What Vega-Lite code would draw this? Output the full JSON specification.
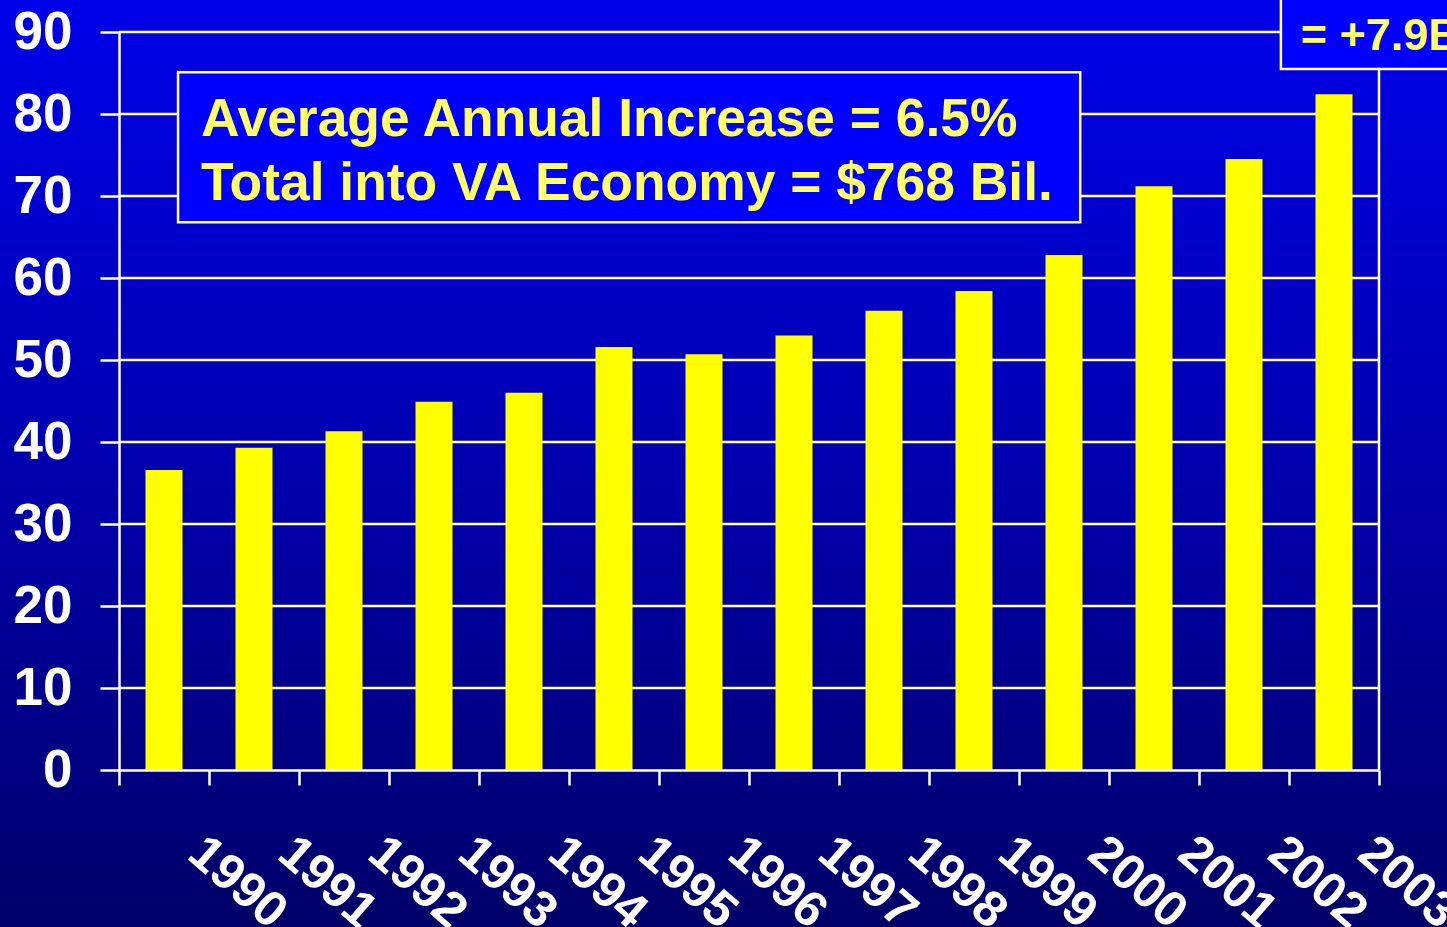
{
  "$schema": "https://vega.github.io/schema/vega-lite/v6.json",
  "width": 1260,
  "height": 738,
  "autosize": {"type": "none"},
  "padding": {"left": 119, "top": 32, "right": 68, "bottom": 157},
  "background": "#0000a8",
  "config": {
    "view": {"stroke": null},
    "font": "Liberation Sans",
    "axis": {"zindex": 1}
  },
  "datasets": {
    "bars": [
      {"year": "1990", "value": 36.6},
      {"year": "1991", "value": 39.3},
      {"year": "1992", "value": 41.3},
      {"year": "1993", "value": 44.9},
      {"year": "1994", "value": 46.0},
      {"year": "1995", "value": 51.6},
      {"year": "1996", "value": 50.7},
      {"year": "1997", "value": 53.0},
      {"year": "1998", "value": 56.0},
      {"year": "1999", "value": 58.4},
      {"year": "2000", "value": 62.8},
      {"year": "2001", "value": 71.2},
      {"year": "2002", "value": 74.5},
      {"year": "2003", "value": 82.4}
    ],
    "grid": [
      {"v": 10}, {"v": 20}, {"v": 30}, {"v": 40}, {"v": 50},
      {"v": 60}, {"v": 70}, {"v": 80}, {"v": 90}
    ]
  },
  "resolve": {"scale": {"x": "independent"}, "axis": {"x": "independent", "y": "independent"}},
  "layer": [
    {
      "data": {"values": [{}]},
      "mark": {
        "type": "rect",
        "fill": {
          "gradient": "linear", "x1": 0, "y1": 0, "x2": 0, "y2": 1,
          "stops": [
            {"offset": 0, "color": "#0000f0"},
            {"offset": 0.5, "color": "#0000b0"},
            {"offset": 1, "color": "#000062"}
          ]
        }
      },
      "encoding": {
        "x": {"datum": -2, "type": "quantitative", "scale": {"domain": [0, 14], "nice": false, "zero": false}, "axis": null},
        "x2": {"datum": 16},
        "y": {"datum": -25, "type": "quantitative", "scale": {"domain": [0, 90], "nice": false}, "axis": null},
        "y2": {"datum": 100}
      }
    },
    {
      "data": {"name": "grid"},
      "mark": {"type": "rule", "color": "white", "strokeWidth": 2.5},
      "encoding": {
        "y": {"field": "v", "type": "quantitative", "scale": {"domain": [0, 90], "nice": false}, "axis": null}
      }
    },
    {
      "data": {"values": [{}]},
      "mark": {"type": "rule", "color": "white", "strokeWidth": 2.5},
      "encoding": {
        "x": {"datum": 14, "type": "quantitative", "scale": {"domain": [0, 14], "nice": false, "zero": false}, "axis": null}
      }
    },
    {
      "data": {"name": "bars"},
      "mark": {"type": "bar", "color": "#ffff00", "width": {"band": 0.411}},
      "encoding": {
        "x": {
          "field": "year", "type": "ordinal",
          "scale": {"paddingInner": 0, "paddingOuter": 0},
          "axis": {
            "title": null, "orient": "bottom", "labelAngle": 41, "labelAlign": "left", "labelBaseline": "alphabetic",
            "labelFont": "Liberation Sans", "labelFontWeight": "bold", "labelFontSize": 50, "labelColor": "white",
            "labelOffset": 21, "labelPadding": 72, "labelOverlap": false, "labelFlush": false, "labelBound": false,
            "tickBand": "extent", "tickSize": 15, "tickColor": "white", "tickWidth": 2.5,
            "domainColor": "white", "domainWidth": 2.5, "grid": false, "zindex": 1
          }
        },
        "y": {
          "field": "value", "type": "quantitative",
          "scale": {"domain": [0, 90], "nice": false},
          "axis": {
            "title": null, "orient": "left", "values": [0, 10, 20, 30, 40, 50, 60, 70, 80, 90],
            "labelFont": "Liberation Sans", "labelFontWeight": "bold", "labelFontSize": 53, "labelColor": "white",
            "labelPadding": 28, "labelFlush": false, "labelBound": false, "labelOverlap": false,
            "tickSize": 19, "tickColor": "white", "tickWidth": 2.5,
            "domainColor": "white", "domainWidth": 2.5, "grid": false, "zindex": 1
          }
        }
      }
    },
    {
      "data": {"values": [{}]},
      "mark": {"type": "rect", "fill": "#0000ff", "stroke": "white", "strokeWidth": 2.5},
      "encoding": {
        "x": {"datum": 0.656, "type": "quantitative", "scale": {"domain": [0, 14], "nice": false, "zero": false}, "axis": null},
        "x2": {"datum": 10.68},
        "y": {"datum": 85.1, "type": "quantitative", "scale": {"domain": [0, 90], "nice": false}, "axis": null},
        "y2": {"datum": 66.8}
      }
    },
    {
      "data": {"values": [{}]},
      "mark": {
        "type": "text",
        "text": ["Average Annual Increase = 6.5%", "Total into VA Economy = $768 Bil."],
        "align": "left", "baseline": "alphabetic", "lineHeight": 64,
        "font": "Liberation Sans", "fontWeight": "bold", "fontSize": 53.4, "color": "#ffff66"
      },
      "encoding": {
        "x": {"datum": 0.91, "type": "quantitative", "scale": {"domain": [0, 14], "nice": false, "zero": false}, "axis": null},
        "y": {"datum": 77.3, "type": "quantitative", "scale": {"domain": [0, 90], "nice": false}, "axis": null}
      }
    },
    {
      "data": {"values": [{}]},
      "mark": {"type": "rect", "fill": "#0000ff", "stroke": "white", "strokeWidth": 2.5},
      "encoding": {
        "x": {"datum": 12.91, "type": "quantitative", "scale": {"domain": [0, 14], "nice": false, "zero": false}, "axis": null},
        "x2": {"datum": 15.5},
        "y": {"datum": 85.5, "type": "quantitative", "scale": {"domain": [0, 90], "nice": false}, "axis": null},
        "y2": {"datum": 96}
      }
    },
    {
      "data": {"values": [{}]},
      "mark": {
        "type": "text", "text": "= +7.9B",
        "align": "left", "baseline": "alphabetic",
        "font": "Liberation Sans", "fontWeight": "bold", "fontSize": 45, "color": "#ffff66"
      },
      "encoding": {
        "x": {"datum": 13.13, "type": "quantitative", "scale": {"domain": [0, 14], "nice": false, "zero": false}, "axis": null},
        "y": {"datum": 87.8, "type": "quantitative", "scale": {"domain": [0, 90], "nice": false}, "axis": null}
      }
    }
  ]
}
